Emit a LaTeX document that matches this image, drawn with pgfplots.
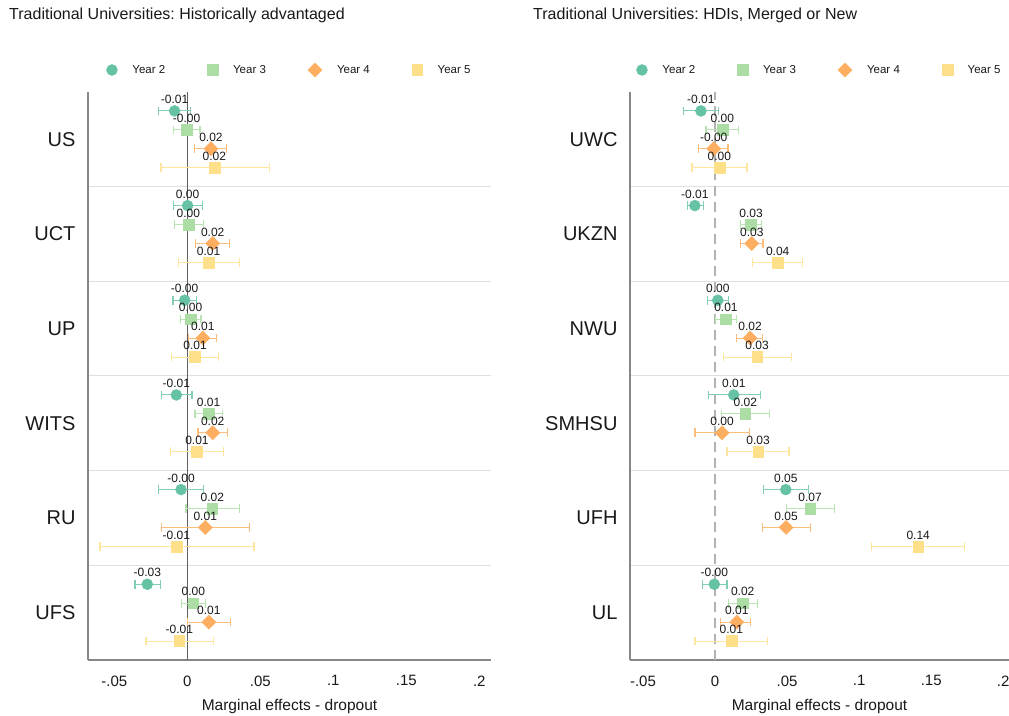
\documentclass[border=0pt]{standalone}
\usepackage{fontspec}
\setmainfont{Liberation Sans}
\usepackage{pgfplots}
\usepackage{pgfplotstable}
\pgfplotsset{compat=1.18}
\frenchspacing

\definecolor{cA}{RGB}{102,194,165}
\definecolor{cB}{RGB}{171,221,164}
\definecolor{cC}{RGB}{253,174,97}
\definecolor{cD}{RGB}{254,224,139}
\definecolor{axgray}{RGB}{135,135,135}
\definecolor{sepgray}{RGB}{224,224,224}
\definecolor{txt}{RGB}{25,25,25}

% ---- left panel ----
\pgfplotstableread{
y x lo hi lab
29 -0.0087 -0.0199 0.0025 -0.01
24 0.0002 -0.0094 0.0105 0.00
19 -0.0018 -0.0098 0.0060 -0.00
14 -0.0075 -0.0178 0.0032 -0.01
9 -0.0043 -0.0199 0.0114 -0.00
4 -0.0274 -0.0358 -0.0183 -0.03
}\LA
\pgfplotstableread{
y x lo hi lab
28 -0.0005 -0.0096 0.0087 -0.00
23 0.0007 -0.0087 0.0110 0.00
18 0.0023 -0.0046 0.0094 0.00
13 0.0146 0.0053 0.0242 0.01
8 0.0171 -0.0009 0.0356 0.02
3 0.0041 -0.0039 0.0123 0.00
}\LB
\pgfplotstableread{
y x lo hi lab
27 0.0162 0.0050 0.0270 0.02
22 0.0174 0.0057 0.0288 0.02
17 0.0107 0.0007 0.0200 0.01
12 0.0174 0.0073 0.0274 0.02
7 0.0123 -0.0178 0.0427 0.01
2 0.0148 0.0002 0.0297 0.01
}\LC
\pgfplotstableread{
y x lo hi lab
26 0.0185 -0.0180 0.0560 0.02
21 0.0146 -0.0060 0.0356 0.01
16 0.0053 -0.0110 0.0212 0.01
11 0.0066 -0.0114 0.0251 0.01
6 -0.0075 -0.0598 0.0457 -0.01
1 -0.0055 -0.0283 0.0178 -0.01
}\LD
% ---- right panel ----
\pgfplotstableread{
y x lo hi lab
29 -0.0098 -0.0220 0.0025 -0.01
24 -0.0140 -0.0190 -0.0083 -0.01
19 0.0019 -0.0054 0.0095 0.00
14 0.0130 -0.0044 0.0313 0.01
9 0.0491 0.0338 0.0646 0.05
4 -0.0005 -0.0086 0.0083 -0.00
}\RA
\pgfplotstableread{
y x lo hi lab
28 0.0051 -0.0063 0.0162 0.00
23 0.0250 0.0178 0.0322 0.03
18 0.0076 0.0005 0.0151 0.01
13 0.0210 0.0046 0.0380 0.02
8 0.0660 0.0495 0.0826 0.07
3 0.0192 0.0095 0.0292 0.02
}\RB
\pgfplotstableread{
y x lo hi lab
27 -0.0009 -0.0113 0.0090 -0.00
22 0.0255 0.0178 0.0333 0.03
17 0.0243 0.0151 0.0331 0.02
12 0.0049 -0.0139 0.0238 0.00
7 0.0493 0.0329 0.0662 0.05
2 0.0151 0.0040 0.0245 0.01
}\RC
\pgfplotstableread{
y x lo hi lab
26 0.0030 -0.0160 0.0222 0.00
21 0.0435 0.0261 0.0609 0.04
16 0.0292 0.0060 0.0528 0.03
11 0.0299 0.0083 0.0513 0.03
6 0.1410 0.1088 0.1731 0.14
1 0.0113 -0.0139 0.0361 0.01
}\RD

\pgfplotsset{
  panel/.style={
    scale only axis, height=568pt,
    ymin=0, ymax=30, enlargelimits=false, clip=false,
    axis lines*=left,
    axis line style={-, draw=axgray, line width=1.4pt},
    xtick={-0.05,0,0.05,0.1,0.15,0.2},
    xticklabels={-.05,0,.05,.1,.15,.2},
    ytick={2.5,7.5,12.5,17.5,22.5,27.5},
    minor ytick={5,10,15,20,25},
    yminorgrids=true,
    minor grid style={draw=sepgray, line width=1pt},
    major tick length=0pt, minor tick length=0pt,
    tick label style={text=txt},
    xticklabel style={font=\fontsize{15}{18}\selectfont, yshift=-12pt},
    yticklabel style={font=\fontsize{20}{24}\selectfont, xshift=-9pt},
    xlabel={Marginal effects - dropout},
    xlabel style={at={(axis description cs:0.5,0)}, anchor=center, yshift=-46pt, font=\fontsize{15.5}{18}\selectfont, text=txt},
    title style={at={(axis description cs:0,1)}, anchor=west, yshift=71pt, font=\fontsize{16}{19}\selectfont, inner sep=0pt, text=txt},
    legend columns=4,
    legend style={at={(axis description cs:0.5,1)}, anchor=center, yshift=22pt, draw=none, fill=none,
      font=\fontsize{11.5}{14}\selectfont, text=txt,
      /tikz/every odd column/.append style={column sep=13pt},
      /tikz/every even column/.append style={column sep=40pt}},
    legend image code/.code={\draw[#1] plot coordinates {(0pt,0pt)};},
  },
  pts/.style 2 args={
    only marks, mark=#2, draw=#1, fill=#1, mark options={draw=#1, fill=#1},
    error bars/.cd, x dir=both, x explicit,
      error bar style={draw=#1!82!white, line width=1.1pt},
      error mark options={rotate=90, mark size=4.3pt, draw=#1!82!white, line width=1.1pt},
    /pgfplots/.cd,
    point meta=explicit symbolic,
    nodes near coords={\pgfplotspointmeta},
    every node near coord/.append style={anchor=south, inner sep=0pt, yshift=7pt,
      font=\fontsize{12}{14}\selectfont, text=txt},
  },
}

\newcommand{\series}[4]{%
  \addplot[pts={#1}{#2}, #3] table[x=x, y=y,
    x error plus expr=\thisrow{hi}-\thisrow{x},
    x error minus expr=\thisrow{x}-\thisrow{lo}, meta=lab] {#4};}

\begin{document}
\begin{tikzpicture}
\path[use as bounding box] (0,0) rectangle (1009pt,715pt);

\begin{axis}[panel, at={(88pt,55pt)}, anchor=south west, width=403pt,
  xmin=-0.068, xmax=0.208,
  yticklabels={UFS,RU,WITS,UP,UCT,US},
  title={Traditional Universities: Historically advantaged},
  title style={xshift=-79pt}]
\addplot[forget plot, draw=black!62, line width=0.75pt] coordinates {(0,0) (0,30)};
\series{cA}{*}{mark size=5.5pt}{\LA}
\series{cB}{square*}{mark size=5.4pt}{\LB}
\series{cC}{square*}{mark size=5pt, mark options={rotate=45}}{\LC}
\series{cD}{square*}{mark size=5.4pt}{\LD}
\legend{Year 2,Year 3,Year 4,Year 5}
\end{axis}

\begin{axis}[panel, at={(630pt,55pt)}, anchor=south west, width=379pt,
  xmin=-0.059, xmax=0.204,
  yticklabels={UL,UFH,SMHSU,NWU,UKZN,UWC},
  title={Traditional Universities: HDIs, Merged or New},
  title style={xshift=-97pt}]
\addplot[forget plot, draw=black!30, line width=2pt, dash pattern=on 10pt off 6pt] coordinates {(0,0) (0,30)};
\series{cA}{*}{mark size=5.5pt}{\RA}
\series{cB}{square*}{mark size=5.4pt}{\RB}
\series{cC}{square*}{mark size=5pt, mark options={rotate=45}}{\RC}
\series{cD}{square*}{mark size=5.4pt}{\RD}
\legend{Year 2,Year 3,Year 4,Year 5}
\end{axis}
\end{tikzpicture}
\end{document}
